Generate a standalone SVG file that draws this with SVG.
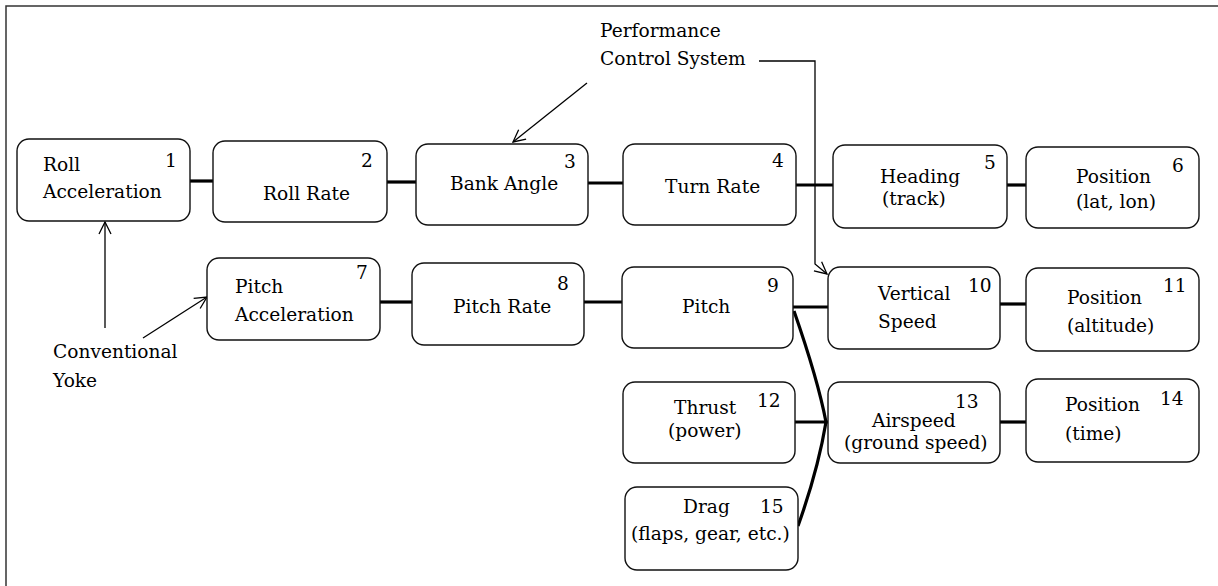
<svg xmlns="http://www.w3.org/2000/svg" width="1218" height="586" viewBox="0 0 1218 586">
<defs>
<style>
.box{fill:#fff;stroke:#111;stroke-width:1.4}
.t{font-family:"DejaVu Serif","Liberation Serif",serif;font-size:18.6px;fill:#000}
.thick{stroke:#000;stroke-width:3.2;fill:none}
.thin{stroke:#000;stroke-width:1.3;fill:none}
</style>
<marker id="arr" markerUnits="userSpaceOnUse" markerWidth="14" markerHeight="14" viewBox="0 0 14 14" refX="13" refY="7" orient="auto">
<path d="M1,1 L13,7 L1,13" fill="none" stroke="#000" stroke-width="1.3"/>
</marker>
</defs>
<rect width="1218" height="586" fill="#fff"/>
<path d="M6,586 V6 H1218" fill="none" stroke="#333" stroke-width="1.5"/>

<g id="connectors">
<line class="thick" x1="190" y1="181" x2="213" y2="181"/>
<line class="thick" x1="387" y1="182" x2="416" y2="182"/>
<line class="thick" x1="588" y1="183" x2="623" y2="183"/>
<line class="thick" x1="796" y1="185" x2="833" y2="185"/>
<line class="thick" x1="1007" y1="185" x2="1026" y2="185"/>
<line class="thick" x1="380" y1="302" x2="412" y2="302"/>
<line class="thick" x1="584" y1="302" x2="622" y2="302"/>
<line class="thick" x1="793" y1="307" x2="828" y2="307"/>
<line class="thick" x1="1000" y1="304" x2="1026" y2="304"/>
<line class="thick" x1="795" y1="422" x2="828" y2="422"/>
<line class="thick" x1="1000" y1="422" x2="1026" y2="422"/>
<path class="thick" d="M794,311 Q818,380 826,422 Q818,470 798,526"/>
<polyline class="thin" points="759,61 815,61 815,264 827,274" marker-end="url(#arr)"/>
<line class="thin" x1="587" y1="83" x2="513" y2="142" marker-end="url(#arr)"/>
<line class="thin" x1="105" y1="328" x2="105" y2="222" marker-end="url(#arr)"/>
<line class="thin" x1="143" y1="338" x2="207" y2="297" marker-end="url(#arr)"/>
</g>

<g id="n1"><rect class="box" x="17" y="139" width="173" height="82" rx="12"/><text class="t" x="43" y="171">Roll</text><text class="t" x="43" y="198">Acceleration</text><text class="t" x="165" y="167">1</text></g>
<g id="n2"><rect class="box" x="213" y="141" width="174" height="81" rx="12"/><text class="t" x="263" y="200">Roll Rate</text><text class="t" x="361" y="167">2</text></g>
<g id="n3"><rect class="box" x="416" y="144" width="172" height="81" rx="12"/><text class="t" x="450" y="190">Bank Angle</text><text class="t" x="564" y="168">3</text></g>
<g id="n4"><rect class="box" x="623" y="144" width="173" height="81" rx="12"/><text class="t" x="665" y="193">Turn Rate</text><text class="t" x="772" y="167">4</text></g>
<g id="n5"><rect class="box" x="833" y="145" width="174" height="83" rx="12"/><text class="t" x="880" y="183">Heading</text><text class="t" x="882" y="205">(track)</text><text class="t" x="984" y="169">5</text></g>
<g id="n6"><rect class="box" x="1026" y="147" width="173" height="81" rx="12"/><text class="t" x="1076" y="183">Position</text><text class="t" x="1076" y="208">(lat, lon)</text><text class="t" x="1172" y="172">6</text></g>
<g id="n7"><rect class="box" x="207" y="258" width="173" height="82" rx="12"/><text class="t" x="235" y="293">Pitch</text><text class="t" x="235" y="321">Acceleration</text><text class="t" x="356" y="279">7</text></g>
<g id="n8"><rect class="box" x="412" y="263" width="172" height="82" rx="12"/><text class="t" x="453" y="313">Pitch Rate</text><text class="t" x="557" y="290">8</text></g>
<g id="n9"><rect class="box" x="622" y="267" width="171" height="81" rx="12"/><text class="t" x="682" y="313">Pitch</text><text class="t" x="767" y="292">9</text></g>
<g id="n10"><rect class="box" x="828" y="267" width="172" height="82" rx="12"/><text class="t" x="878" y="300">Vertical</text><text class="t" x="878" y="328">Speed</text><text class="t" x="968" y="292">10</text></g>
<g id="n11"><rect class="box" x="1026" y="268" width="173" height="83" rx="12"/><text class="t" x="1067" y="304">Position</text><text class="t" x="1067" y="332">(altitude)</text><text class="t" x="1163" y="292">11</text></g>
<g id="n12"><rect class="box" x="623" y="382" width="172" height="81" rx="12"/><text class="t" x="674" y="414">Thrust</text><text class="t" x="668" y="437">(power)</text><text class="t" x="757" y="407">12</text></g>
<g id="n13"><rect class="box" x="828" y="382" width="172" height="81" rx="12"/><text class="t" x="872" y="427">Airspeed</text><text class="t" x="844" y="449">(ground speed)</text><text class="t" x="955" y="408">13</text></g>
<g id="n14"><rect class="box" x="1026" y="379" width="173" height="83" rx="12"/><text class="t" x="1065" y="411">Position</text><text class="t" x="1065" y="440">(time)</text><text class="t" x="1160" y="405">14</text></g>
<g id="n15"><rect class="box" x="625" y="487" width="173" height="83" rx="12"/><text class="t" x="683" y="513">Drag</text><text class="t" x="760" y="513">15</text><text class="t" x="631" y="540">(flaps, gear, etc.)</text></g>

<g id="labels">
<text class="t" x="600" y="37">Performance</text>
<text class="t" x="600" y="65">Control System</text>
<text class="t" x="53" y="358">Conventional</text>
<text class="t" x="53" y="387">Yoke</text>
</g>
</svg>
